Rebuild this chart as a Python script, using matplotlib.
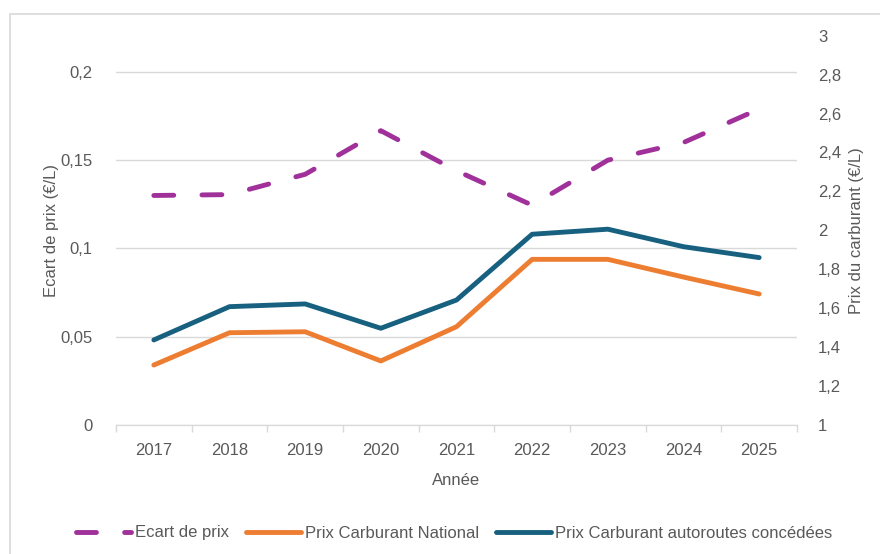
import numpy as np
import matplotlib.pyplot as plt
from matplotlib.patches import Rectangle
from matplotlib.lines import Line2D

# valeurs
annees = ["2017", "2018", "2019", "2020", "2021", "2022", "2023", "2024", "2025"]
ecart_prix = [0.130, 0.1305, 0.142, 0.1667, 0.144, 0.1245, 0.150, 0.160, 0.179]
prix_national = [1.308, 1.474, 1.479, 1.329, 1.505, 1.851, 1.851, 1.760, 1.673]
prix_autoroutes = [1.437, 1.608, 1.622, 1.497, 1.642, 1.980, 2.006, 1.916, 1.860]

left_ticks = [0, 0.05, 0.1, 0.15, 0.2]
left_labels = ["0", "0,05", "0,1", "0,15", "0,2"]
right_ticks = [1, 1.2, 1.4, 1.6, 1.8, 2, 2.2, 2.4, 2.6, 2.8, 3]
right_labels = ["1", "1,2", "1,4", "1,6", "1,8", "2", "2,2", "2,4", "2,6", "2,8", "3"]

PURPLE = "#A0309A"
ORANGE = "#ED7D31"
BLUE = "#17607F"
TXT = "#595959"
GRID = "#D9D9D9"
FS = 12

plt.rcParams["font.family"] = ["Liberation Sans", "DejaVu Sans"]
plt.rcParams["font.size"] = FS

fig = plt.figure(figsize=(8.8, 5.54), dpi=100)
ax = fig.add_axes([116 / 880, 1 - 425 / 554, (797 - 116) / 880, (425 - 35.7) / 554])
ax2 = ax.twinx()

x = np.arange(len(annees))

ax.plot(x, ecart_prix, color=PURPLE, lw=3.5, dashes=(4.1, 5.8),
        dash_capstyle="round", solid_capstyle="round", zorder=3)
ax2.plot(x, prix_national, color=ORANGE, lw=3.5, solid_capstyle="round",
         solid_joinstyle="round")
ax2.plot(x, prix_autoroutes, color=BLUE, lw=3.5, solid_capstyle="round",
         solid_joinstyle="round")

ax.set_xlim(-0.5, len(annees) - 0.5)
ax.set_ylim(0, 0.2205)
ax2.set_ylim(1, 3)

ax.set_yticks(left_ticks)
ax.set_yticklabels(left_labels)
ax2.set_yticks(right_ticks)
ax2.set_yticklabels(right_labels)
ax.set_xticks(x)
ax.set_xticklabels(annees)
ax.set_xticks(np.arange(-0.5, len(annees)), minor=True)

ax.tick_params(axis="y", length=0, colors=TXT, labelsize=FS, pad=17)
ax2.tick_params(axis="y", length=0, colors=TXT, labelsize=FS, pad=15)
ax.tick_params(axis="x", which="major", length=0, colors=TXT, labelsize=FS, pad=13)
ax.tick_params(axis="x", which="minor", length=5, color=GRID, width=1)

ax.grid(axis="y", color=GRID, lw=1)
ax.set_axisbelow(True)
for a in (ax, ax2):
    for s in ("left", "right", "top"):
        a.spines[s].set_visible(False)
    a.spines["bottom"].set_color(GRID)

ax.set_ylabel("Ecart de prix (€/L)", color=TXT, fontsize=FS, labelpad=1)
ax2.set_ylabel("Prix du carburant (€/L)", color=TXT, fontsize=FS, labelpad=6)
ax.set_xlabel("Année", color=TXT, fontsize=FS, labelpad=11)

# cadre du graphique
fig.patches.append(Rectangle((10 / 880, -0.1), 1.2, 1 - 14 / 554 + 0.1,
                             transform=fig.transFigure, fill=False,
                             edgecolor=GRID, lw=1.2))

handles = [
    Line2D([], [], color=PURPLE, lw=3.5, dashes=(4.1, 5.8), dash_capstyle="round"),
    Line2D([], [], color=ORANGE, lw=3.5, solid_capstyle="round"),
    Line2D([], [], color=BLUE, lw=3.5, solid_capstyle="round"),
]
labels = ["Ecart de prix", "Prix Carburant National",
          "Prix Carburant autoroutes concédées"]
leg = fig.legend(handles, labels, loc="center", ncol=3, frameon=False,
                 bbox_to_anchor=(454 / 880, 1 - 533 / 554), handlelength=3.3,
                 handletextpad=0.25, columnspacing=1.0, fontsize=FS)
for t in leg.get_texts():
    t.set_color(TXT)

fig.savefig("out.png", dpi=100)
